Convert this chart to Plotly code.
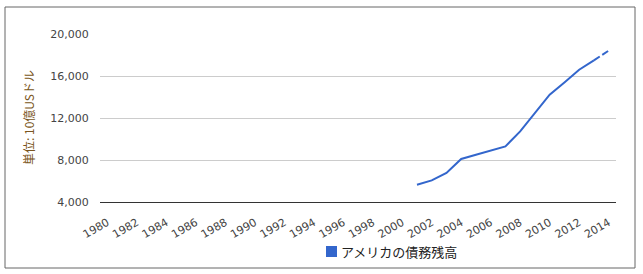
import plotly.graph_objects as go

years = [str(y) for y in range(1980, 2015)]
debt = [None] * 21 + [5650, 6060, 6760, 8100, 8500, 8890, 9300, 10720,
                      12480, 14220, 15390, 16600, 17490, 18410]
# last segment (2013-2014) is drawn dashed in the reference (estimate)
estimate_years = ["2013", "2014"]
estimate_vals = [17490, 18410]
series_name = "アメリカの債務残高"
y_title = "単位: 10億USドル"
y_ticks = [4000, 8000, 12000, 16000, 20000]
x_ticks = [str(y) for y in range(1980, 2015, 2)]

color = "#3366cc"
fig = go.Figure()
solid_vals = [v if (y not in estimate_years or y == estimate_years[0]) else None
              for y, v in zip(years, debt)]
fig.add_trace(go.Scatter(x=years, y=solid_vals, mode="lines", name=series_name,
                         line=dict(color=color, width=2), showlegend=False,
                         connectgaps=False))
fig.add_trace(go.Scatter(x=estimate_years, y=estimate_vals, mode="lines",
                         line=dict(color=color, width=2, dash="7px,3px"),
                         showlegend=False))

L, R, T, B = 100, 27, 34, 72
W, H = 643, 274
pw, ph = W - L - R, H - T - B

def px_x(x):
    return (x - L) / pw

def px_y(y):
    return (H - B - y) / ph

fig.update_layout(
    width=W, height=H,
    margin=dict(l=L, r=R, t=T, b=B),
    paper_bgcolor="white", plot_bgcolor="white",
    showlegend=False,
    font=dict(family="DejaVu Sans, Noto Sans CJK JP", size=11, color="#444"),
    xaxis=dict(type="category", categoryorder="array", categoryarray=years,
               tickvals=x_ticks, ticktext=x_ticks, tickangle=-30,
               showgrid=False, showline=True, linecolor="#333", linewidth=1,
               ticks="outside", ticklen=9, tickcolor="rgba(0,0,0,0)",
               range=[-0.5, len(years) - 0.5], automargin=False,
               tickfont=dict(size=11, color="#444")),
    yaxis=dict(range=[4000, 20000], tickvals=y_ticks, tickformat=",",
               showgrid=True, gridcolor="#cccccc", gridwidth=1,
               zeroline=False, showline=False, automargin=False,
               ticks="outside", ticklen=8, tickcolor="rgba(0,0,0,0)",
               tickfont=dict(size=11, color="#444")),
    annotations=[
        dict(text=y_title, xref="paper", yref="paper",
             x=px_x(28), y=0.5, textangle=-90, showarrow=False,
             xanchor="center", yanchor="middle",
             font=dict(family="Noto Sans CJK JP", size=12, color="#7a5520")),
        dict(text=series_name, xref="paper", yref="paper",
             x=px_x(339), y=px_y(251), showarrow=False,
             xanchor="left", yanchor="middle",
             font=dict(family="Noto Sans CJK JP", size=13, color="#222")),
    ],
    shapes=[
        dict(type="rect", xref="paper", yref="paper",
             x0=px_x(5), x1=px_x(635), y0=px_y(268), y1=px_y(7),
             line=dict(color="#666", width=1), layer="below"),
        dict(type="rect", xref="paper", yref="paper",
             x0=px_x(326), x1=px_x(337), y0=px_y(257), y1=px_y(246),
             fillcolor=color, line=dict(width=0)),
    ],
)

fig.write_html("out.html")
